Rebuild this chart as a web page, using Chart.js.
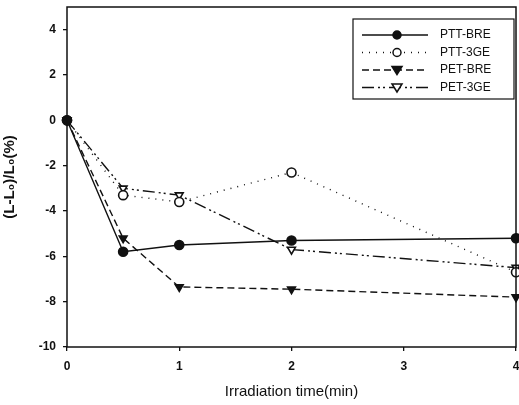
<!DOCTYPE html>
<html><head><meta charset="utf-8">
<script src="https://cdn.jsdelivr.net/npm/chart.js@4"></script>
<style>html,body{margin:0;padding:0;background:#fff}#wrap{width:519px;height:405px}</style>
</head><body><div id="wrap"><canvas id="c"></canvas></div>
<script>
const times = [0, 0.5, 1, 2, 4];
const seriesNames = ['PTT-BRE', 'PTT-3GE', 'PET-BRE', 'PET-3GE'];
const pttBRE = [0, -5.8, -5.5, -5.3, -5.2];
const ptt3GE = [0, -3.3, -3.6, -2.3, -6.7];
const petBRE = [0, -5.2, -7.35, -7.45, -7.8];
const pet3GE = [0, -3.0, -3.3, -5.7, -6.5];
const xTicks = [0, 1, 2, 3, 4];
const yTicks = [-10, -8, -6, -4, -2, 0, 2, 4];

const toPts = arr => arr.map((v, i) => ({x: times[i], y: v}));

const styles = [
  {dash: [], pointStyle: 'circle', fill: true, rot: 0},
  {dash: [1, 6], pointStyle: 'circle', fill: false, rot: 0},
  {dash: [7, 4], pointStyle: 'triangle', fill: true, rot: 180},
  {dash: [12, 4, 2, 3, 2, 4], pointStyle: 'triangle', fill: false, rot: 180}
];
const values = [pttBRE, ptt3GE, petBRE, pet3GE];

const datasets = values.map((v, i) => ({
  label: seriesNames[i],
  data: toPts(v),
  borderColor: '#111',
  borderWidth: 1.4,
  borderDash: styles[i].dash,
  pointStyle: styles[i].pointStyle,
  pointRotation: styles[i].rot,
  pointRadius: 4.5,
  pointBorderWidth: 1.6,
  pointBackgroundColor: styles[i].fill ? '#111' : '#fff',
  pointBorderColor: '#111',
  clip: false,
  tension: 0
}));

const framePlugin = {
  id: 'frame',
  afterDatasetsDraw(chart) {
    const {ctx, chartArea: a} = chart;
    ctx.save();
    ctx.strokeStyle = '#111';
    ctx.lineWidth = 1.5;
    ctx.setLineDash([]);
    ctx.strokeRect(a.left, a.top, a.right - a.left, a.bottom - a.top);
    // legend box
    const bx = 353, by = 19, bw = 161, bh = 80;
    ctx.fillStyle = '#fff';
    ctx.fillRect(bx, by, bw, bh);
    ctx.lineWidth = 1.2;
    ctx.strokeRect(bx, by, bw, bh);
    ctx.font = '12px "Liberation Sans", Arial, sans-serif';
    ctx.textBaseline = 'middle';
    chart.data.datasets.forEach((ds, i) => {
      const y = by + 16 + i * 17.5;
      ctx.strokeStyle = '#111';
      ctx.lineWidth = 1.4;
      ctx.setLineDash(ds.borderDash);
      ctx.beginPath();
      ctx.moveTo(bx + 9, y);
      ctx.lineTo(bx + 75, y);
      ctx.stroke();
      ctx.setLineDash([]);
      const mx = bx + 44;
      ctx.fillStyle = ds.pointBackgroundColor;
      ctx.strokeStyle = '#111';
      ctx.lineWidth = 1.5;
      ctx.beginPath();
      if (ds.pointStyle === 'circle') {
        ctx.arc(mx, y, 4, 0, Math.PI * 2);
      } else {
        ctx.moveTo(mx - 5, y - 3.5);
        ctx.lineTo(mx + 5, y - 3.5);
        ctx.lineTo(mx, y + 4.5);
        ctx.closePath();
      }
      ctx.fill();
      ctx.stroke();
      ctx.fillStyle = '#111';
      ctx.fillText(ds.label, bx + 87, y);
    });
    ctx.restore();
  }
};

const fam = '"Liberation Sans", Arial, sans-serif';

new Chart(document.getElementById('c'), {
  type: 'line',
  data: {datasets},
  options: {
    responsive: true,
    maintainAspectRatio: false,
    animation: false,
    layout: {autoPadding: false, padding: {top: 7, right: 3, left: 0, bottom: 0}},
    plugins: {legend: {display: false}, tooltip: {enabled: false}},
    scales: {
      x: {
        type: 'linear', min: 0, max: 4,
        afterBuildTicks: s => { s.ticks = xTicks.map(v => ({value: v})); },
        afterFit: s => { s.height = 58; s.paddingLeft = 0; s.paddingRight = 0; },
        grid: {drawOnChartArea: false, color: '#111', tickLength: 4, lineWidth: 1.3},
        border: {display: false},
        ticks: {color: '#111', font: {family: fam, size: 12, weight: 'bold'}, padding: 8, maxRotation: 0},
        title: {display: true, text: 'Irradiation time(min)', color: '#111', font: {family: fam, size: 15}, padding: {top: 8}}
      },
      y: {
        type: 'linear', min: -10, max: 5,
        afterBuildTicks: s => { s.ticks = yTicks.map(v => ({value: v})); },
        afterFit: s => { s.width = 67; s.paddingTop = 0; s.paddingBottom = 0; },
        grid: {drawOnChartArea: false, color: '#111', tickLength: 4, lineWidth: 1.3},
        border: {display: false},
        ticks: {color: '#111', font: {family: fam, size: 12, weight: 'bold'}, padding: 7},
        title: {display: true, text: '(L-L\u2080)/L\u2080(%)', color: '#111', font: {family: fam, size: 15, weight: 'bold'}, padding: {top: 1, bottom: 8}}
      }
    }
  },
  plugins: [framePlugin]
});
</script></body></html>
